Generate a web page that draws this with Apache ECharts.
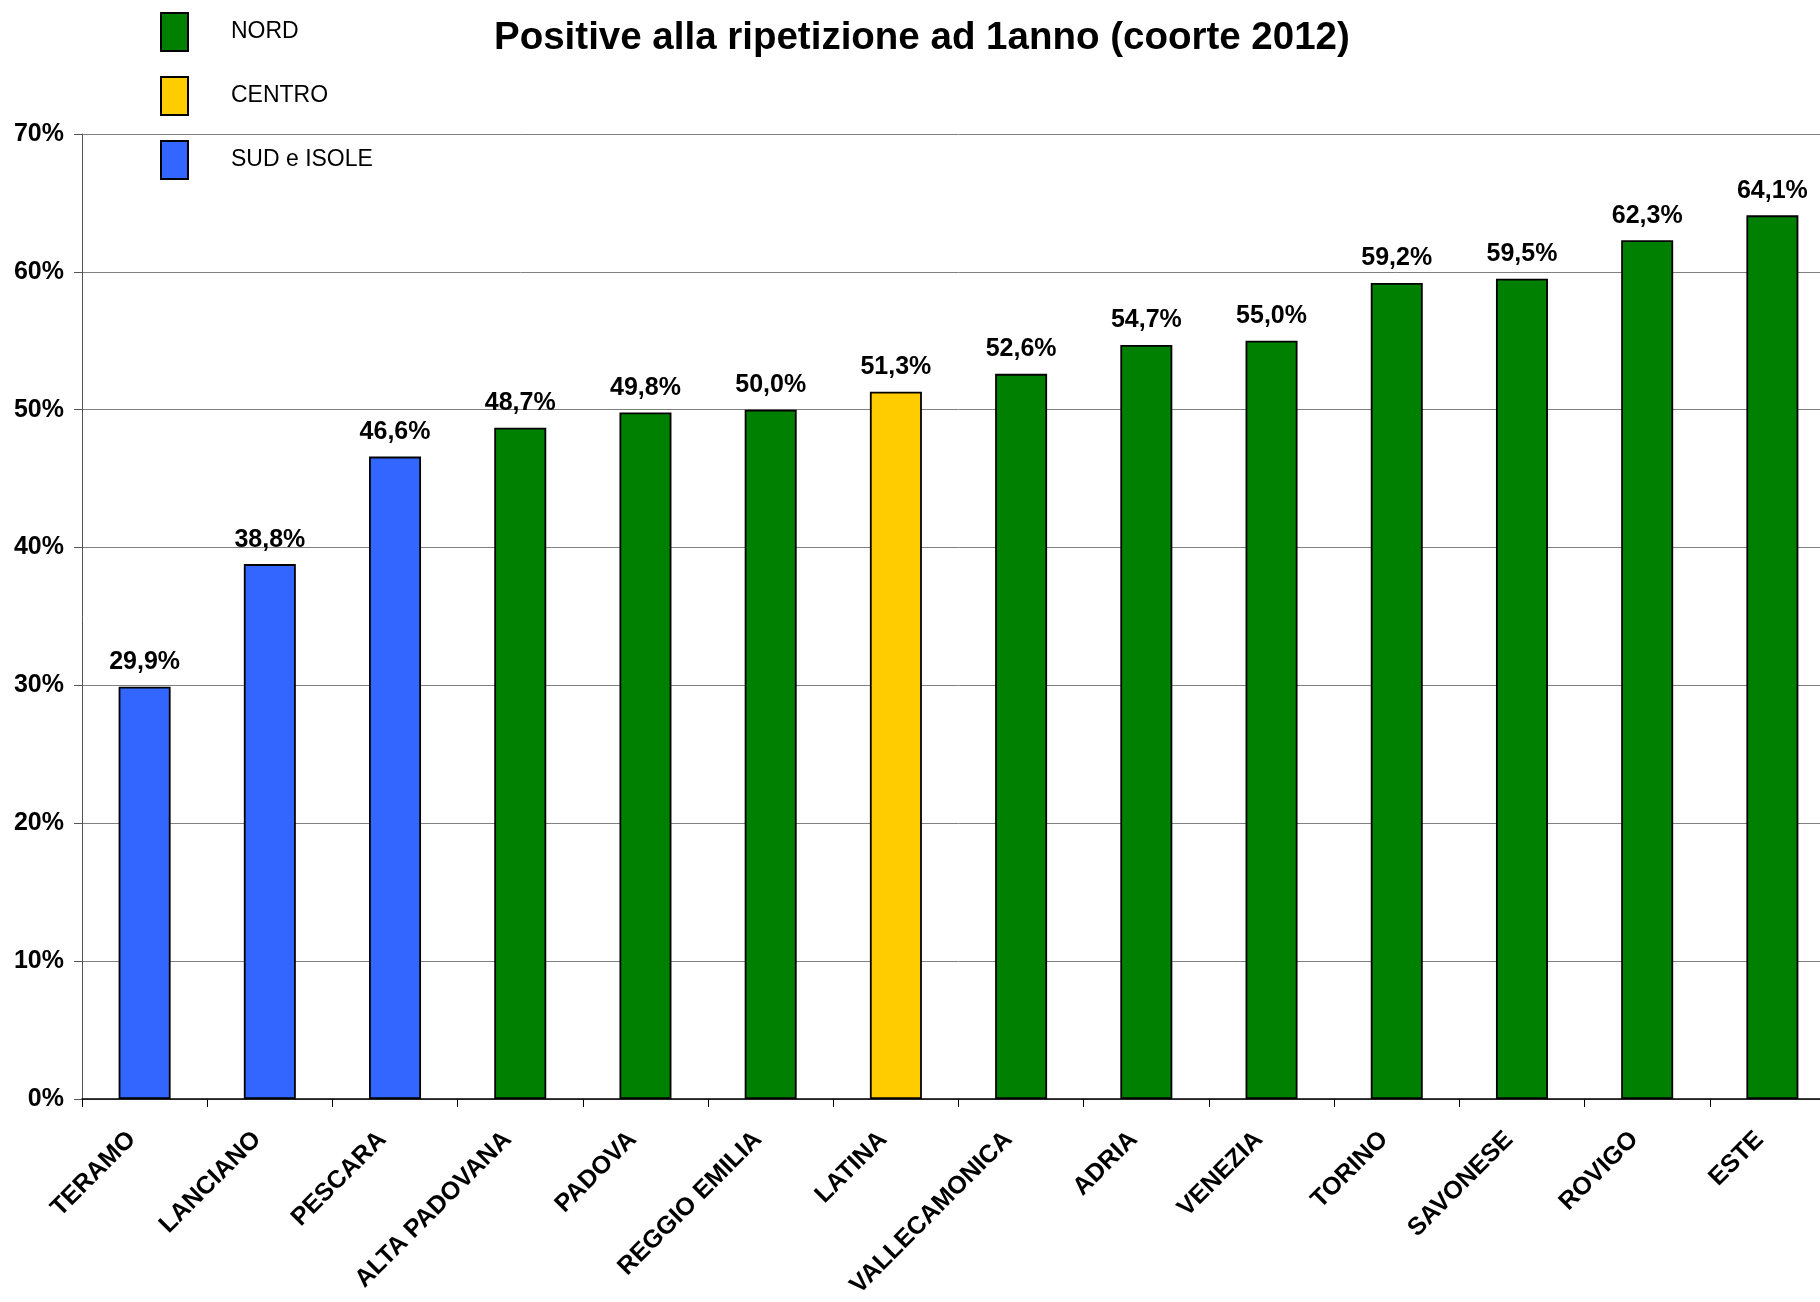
<!DOCTYPE html>
<html>
<head>
<meta charset="utf-8">
<script src="https://cdn.jsdelivr.net/npm/echarts@6/dist/echarts.min.js"></script>
<style>
html,body{margin:0;padding:0;background:#fff;overflow:hidden;}
#chart{width:1840px;height:1302px;}
</style>
</head>
<body>
<div id="chart"></div>
<script>
const categories = ['TERAMO','LANCIANO','PESCARA','ALTA PADOVANA','PADOVA','REGGIO EMILIA','LATINA','VALLECAMONICA','ADRIA','VENEZIA','TORINO','SAVONESE','ROVIGO','ESTE'];
const values = [29.9,38.8,46.6,48.7,49.8,50.0,51.3,52.6,54.7,55.0,59.2,59.5,62.3,64.1];
const regions = ['SUD e ISOLE','SUD e ISOLE','SUD e ISOLE','NORD','NORD','NORD','CENTRO','NORD','NORD','NORD','NORD','NORD','NORD','NORD'];
const regionNames = ['NORD','CENTRO','SUD e ISOLE'];
const regionColors = {'NORD':'#008000','CENTRO':'#FFCC00','SUD e ISOLE':'#3366FF'};
const yTicks = {min:0,max:70,interval:10};
const titleText = 'Positive alla ripetizione ad 1anno (coorte 2012)';

const FONT = 'Liberation Sans, Arial, sans-serif';
const chart = echarts.init(document.getElementById('chart'));

const series = regionNames.map(r => ({
  name: r,
  type: 'bar',
  stack: 'all',
  barWidth: 52,
  data: values.map((v,i) => regions[i] === r ? v : '-'),
  itemStyle: {color: regionColors[r], borderColor: '#000', borderWidth: 1.8},
  label: {
    show: true, position: 'top', distance: 12,
    fontFamily: FONT, fontWeight: 'bold', fontSize: 25, color: '#000',
    formatter: p => p.value.toFixed(1).replace('.', ',') + '%'
  }
}));

chart.setOption({
  animation: false,
  backgroundColor: '#fff',
  title: {
    text: titleText, left: 494, top: 19, padding: 0,
    textStyle: {fontFamily: FONT, fontWeight: 'bold', fontSize: 38.5, color: '#000'}
  },
  legend: {
    orient: 'vertical', left: 160, top: 12, padding: 0,
    itemWidth: 27, itemHeight: 38, itemGap: 24, icon: 'rect',
    data: regionNames,
    textStyle: {fontFamily: FONT, fontSize: 23, color: '#000', padding: [0,0,0,38]}
  },
  grid: {left: 82, top: 134, width: 1753, height: 965, containLabel: false},
  xAxis: {
    type: 'category', data: categories,
    axisLine: {lineStyle: {color: '#000', width: 1.5}},
    axisTick: {show: true, length: 8, lineStyle: {color: '#000'}},
    axisLabel: {rotate: 45, margin: 24, padding: [0,18,0,0], fontFamily: FONT, fontWeight: 'bold', fontSize: 25, color: '#000', interval: 0}
  },
  yAxis: {
    type: 'value', min: yTicks.min, max: yTicks.max, interval: yTicks.interval,
    axisLine: {show: true, lineStyle: {color: '#555', width: 1}},
    axisTick: {show: true, length: 8, lineStyle: {color: '#555'}},
    axisLabel: {margin: 18, fontFamily: FONT, fontWeight: 'bold', fontSize: 25, color: '#000', formatter: '{value}%'},
    splitLine: {show: true, lineStyle: {color: '#808080', width: 1}}
  },
  series: series
});
</script>
</body>
</html>
